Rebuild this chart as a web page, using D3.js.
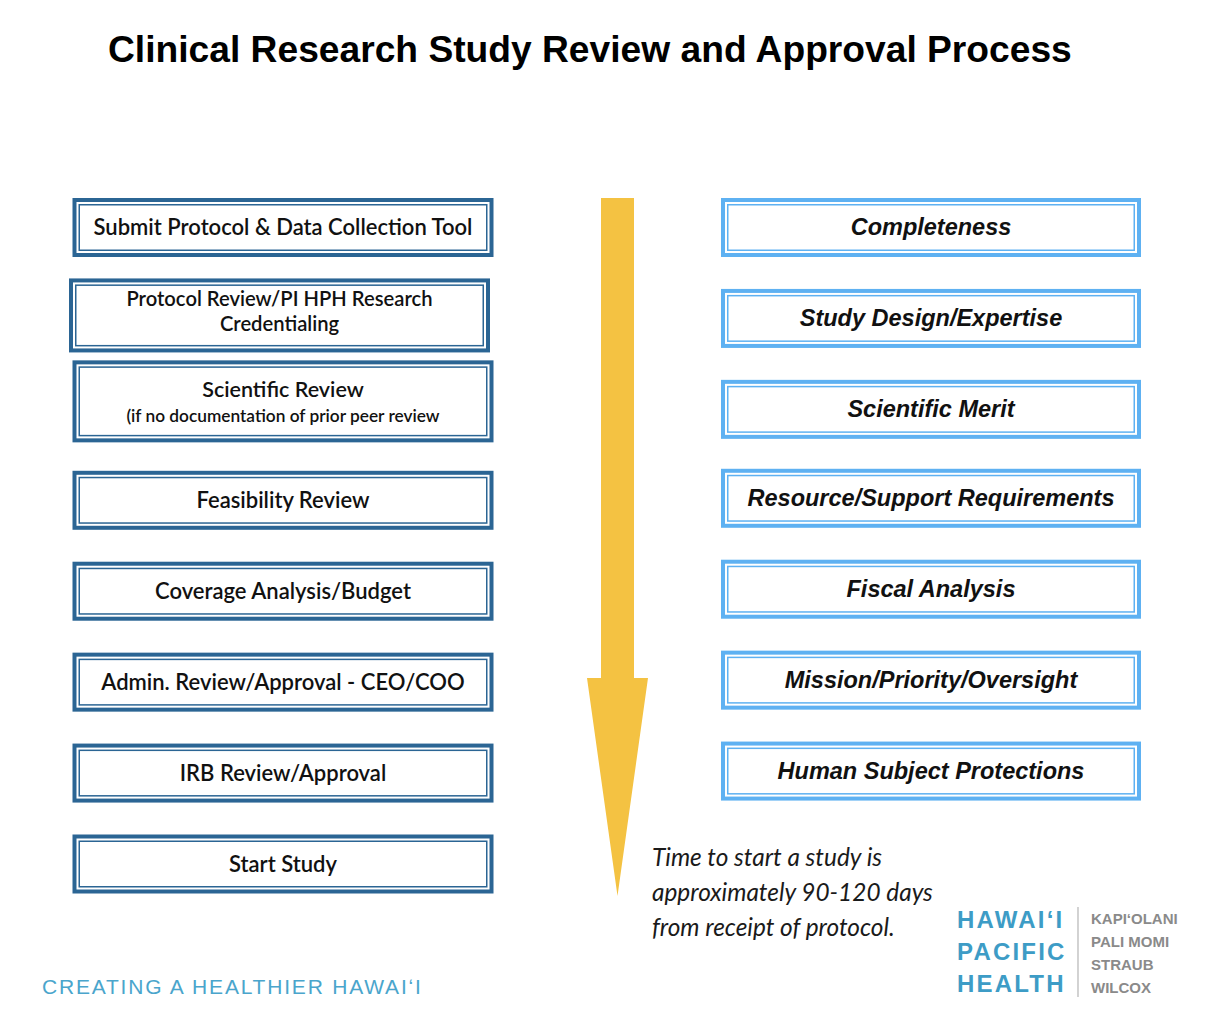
<!DOCTYPE html>
<html>
<head>
<meta charset="utf-8">
<script src="https://cdn.jsdelivr.net/npm/d3@7/dist/d3.min.js"></script>
<style>
  html, body { margin: 0; padding: 0; background: #ffffff; }
  svg { display: block; }
</style>
</head>
<body>
<script>
// ---------- data ----------
const title = "Clinical Research Study Review and Approval Process";
const processSteps = [
  "Submit Protocol & Data Collection Tool",
  "Protocol Review/PI HPH Research|Credentialing",
  "Scientific Review",
  "Feasibility Review",
  "Coverage Analysis/Budget",
  "Admin. Review/Approval - CEO/COO",
  "IRB Review/Approval",
  "Start Study"
];
const stepNotes = ["", "", "(if no documentation of prior peer review", "", "", "", "", ""];
const reviewCriteria = [
  "Completeness",
  "Study Design/Expertise",
  "Scientific Merit",
  "Resource/Support Requirements",
  "Fiscal Analysis",
  "Mission/Priority/Oversight",
  "Human Subject Protections"
];
const timeNote = ["Time to start a study is", "approximately 90-120 days", "from receipt of protocol."];
const tagline = "CREATING A HEALTHIER HAWAIʻI";
const logoMain = ["HAWAIʻI", "PACIFIC", "HEALTH"];
const logoSub = ["KAPIʻOLANI", "PALI MOMI", "STRAUB", "WILCOX"];

// ---------- layout ----------
const W = 1210, H = 1022;
const svg = d3.select("body").append("svg").attr("width", W).attr("height", H);

const darkBlue = "#2b6594", lightBlue = "#5eb1f2", gold = "#f4c242";

svg.append("text")
  .attr("x", 108).attr("y", 62)
  .attr("font-family", "Liberation Sans, Arial, sans-serif")
  .attr("font-weight", "bold").attr("font-size", 37.2)
  .attr("fill", "#000").text(title);

const row = d3.scaleLinear().domain([0, 7]).range([227.5, 864]);

function boxHeight(d, i) {
  if (stepNotes[i]) return 82;
  if (d.includes("|")) return 74;
  return 59;
}
function leftCenter(d, i) {
  const shift = stepNotes[i] ? -8 : (d.includes("|") ? -3 : 0);
  return row(i) + shift;
}

function drawFrame(g, x, y, w, h, color) {
  g.append("rect").attr("x", x).attr("y", y).attr("width", w).attr("height", h).attr("fill", color);
  g.append("rect").attr("x", x + 4).attr("y", y + 4).attr("width", w - 8).attr("height", h - 8).attr("fill", "#fff");
  g.append("rect").attr("x", x + 6.75).attr("y", y + 6.75).attr("width", w - 13.5).attr("height", h - 13.5)
    .attr("fill", "#fff").attr("stroke", color).attr("stroke-width", 1.5);
}

// left column
const leftG = svg.append("g");
processSteps.forEach((d, i) => {
  const h = boxHeight(d, i);
  const cy = leftCenter(d, i);
  const twoLine = d.includes("|");
  const x = twoLine ? 69 : 72.5;
  const g = leftG.append("g");
  drawFrame(g, x, cy - h / 2, 421, h, darkBlue);
  const cx = x + 421 / 2;
  const font = "Lato, 'Open Sans', sans-serif";
  if (twoLine) {
    const lines = d.split("|");
    lines.forEach((t, k) => {
      g.append("text").attr("x", cx).attr("y", cy - 9 + k * 25)
        .attr("text-anchor", "middle").attr("font-family", font)
        .attr("font-weight", 600).attr("font-size", 20.2).attr("fill", "#111").text(t);
    });
  } else if (stepNotes[i]) {
    g.append("text").attr("x", cx).attr("y", cy - 4)
      .attr("text-anchor", "middle").attr("font-family", font)
      .attr("font-weight", 600).attr("font-size", 21.5).attr("fill", "#111").text(d);
    g.append("text").attr("x", cx).attr("y", cy + 21)
      .attr("text-anchor", "middle").attr("font-family", font)
      .attr("font-weight", 600).attr("font-size", 17.3).attr("fill", "#111").text(stepNotes[i]);
  } else {
    g.append("text").attr("x", cx).attr("y", cy + 7.5)
      .attr("text-anchor", "middle").attr("font-family", font)
      .attr("font-weight", 600).attr("font-size", 22).attr("fill", "#111").text(d);
  }
});

// right column
const rightG = svg.append("g");
reviewCriteria.forEach((d, i) => {
  const cy = row(i) - (i >= 3 ? 2 : 0);
  const g = rightG.append("g");
  drawFrame(g, 721, cy - 29.5, 420, 59, lightBlue);
  g.append("text").attr("x", 721 + 210).attr("y", cy + 7.5)
    .attr("text-anchor", "middle")
    .attr("font-family", "Liberation Sans, Arial, sans-serif")
    .attr("font-weight", "bold").attr("font-style", "italic")
    .attr("font-size", 23.5).attr("fill", "#111").text(d);
});

// arrow
const ax = 617.5, shaftHalf = 16.5, headHalf = 30.5;
const ap = d3.path();
ap.moveTo(ax - shaftHalf, 198);
ap.lineTo(ax + shaftHalf, 198);
ap.lineTo(ax + shaftHalf, 678);
ap.lineTo(ax + headHalf, 678);
ap.lineTo(ax, 896);
ap.lineTo(ax - headHalf, 678);
ap.lineTo(ax - shaftHalf, 678);
ap.closePath();
svg.append("path").attr("d", ap.toString()).attr("fill", gold);

// time note
timeNote.forEach((t, k) => {
  svg.append("text").attr("x", 652).attr("y", 866 + k * 35)
    .attr("font-family", "Lato, sans-serif").attr("font-style", "italic")
    .attr("font-size", 24.4).attr("fill", "#1a1a1a").text(t);
});

// tagline
svg.append("text").attr("x", 42).attr("y", 994)
  .attr("font-family", "Liberation Sans, Arial, sans-serif")
  .attr("font-size", 21).attr("letter-spacing", 1.8)
  .attr("fill", "#4aa5cc").text(tagline);

// logo
logoMain.forEach((t, k) => {
  svg.append("text").attr("x", 957).attr("y", 928 + k * 32)
    .attr("font-family", "Liberation Sans, Arial, sans-serif")
    .attr("font-weight", "bold").attr("font-size", 24).attr("letter-spacing", 2.2)
    .attr("fill", "#3d9cc6").text(t);
});
svg.append("line").attr("x1", 1078).attr("x2", 1078).attr("y1", 907).attr("y2", 997)
  .attr("stroke", "#b5b5b5").attr("stroke-width", 1.2);
logoSub.forEach((t, k) => {
  svg.append("text").attr("x", 1091).attr("y", 923.5 + k * 23.2)
    .attr("font-family", "Liberation Sans, Arial, sans-serif")
    .attr("font-weight", "bold").attr("font-size", 15)
    .attr("fill", "#8a8a8a").text(t);
});
</script>
</body>
</html>
